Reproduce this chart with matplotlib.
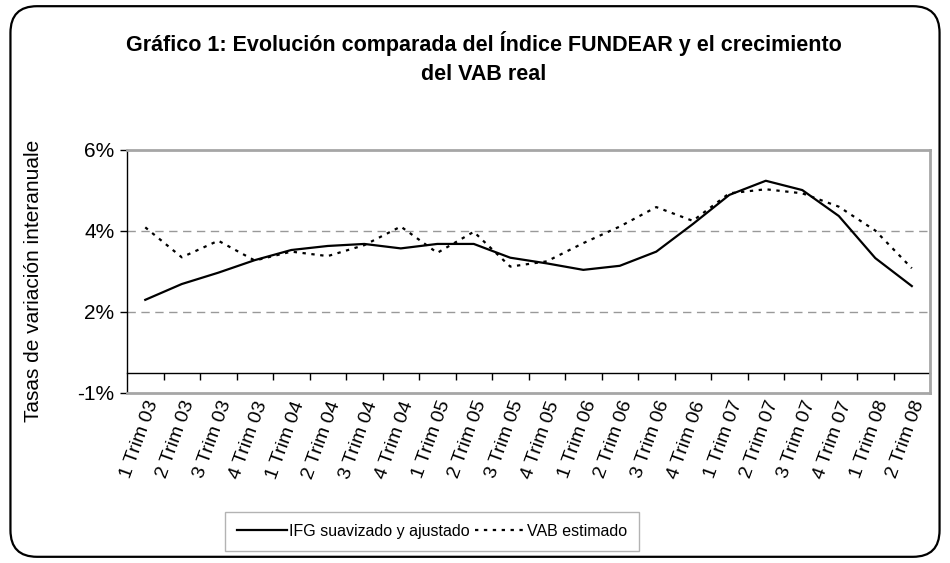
import matplotlib.pyplot as plt
import matplotlib.patches as patches
import numpy as np

plt.rcParams['font.family'] = ['Liberation Sans', 'DejaVu Sans']

# quarters
periodos = ['1 Trim 03', '2 Trim 03', '3 Trim 03', '4 Trim 03',
            '1 Trim 04', '2 Trim 04', '3 Trim 04', '4 Trim 04',
            '1 Trim 05', '2 Trim 05', '3 Trim 05', '4 Trim 05',
            '1 Trim 06', '2 Trim 06', '3 Trim 06', '4 Trim 06',
            '1 Trim 07', '2 Trim 07', '3 Trim 07', '4 Trim 07',
            '1 Trim 08', '2 Trim 08']
ifg = [2.30, 2.69, 2.97, 3.28, 3.53, 3.63, 3.68, 3.57, 3.68, 3.68, 3.34,
       3.20, 3.04, 3.14, 3.49, 4.17, 4.89, 5.24, 5.01, 4.37, 3.33, 2.64]
vab = [4.09, 3.35, 3.76, 3.27, 3.49, 3.38, 3.65, 4.11, 3.46, 3.98, 3.12,
       3.25, 3.70, 4.11, 4.59, 4.25, 4.93, 5.03, 4.93, 4.60, 4.01, 3.08]
yticks = [0, 2, 4, 6]
ytick_labels = ['-1%', '2%', '4%', '6%']
cruce = 0.5  # where the category axis crosses

fig = plt.figure(figsize=(9.5, 5.63), dpi=100)
ax = fig.add_axes([0.1337, 0.302, 0.8453, 0.4316])

x = np.arange(len(periodos))
l1, = ax.plot(x, ifg, color='black', lw=1.6, label='IFG suavizado y ajustado')
l2, = ax.plot(x, vab, color='black', lw=1.6, ls=(0, (1.5, 2.5)), label='VAB estimado')

ax.set_xlim(-0.5, len(periodos) - 0.5)
ax.set_ylim(0, 6)
ax.set_yticks(yticks)
ax.set_yticklabels(ytick_labels, fontsize=15)
ax.tick_params(axis='y', direction='out', length=5, width=1, pad=4)
ax.set_xticks(x)
ax.set_xticklabels(periodos, rotation=70, ha='right', rotation_mode='anchor',
                   fontsize=14)
ax.tick_params(axis='x', length=0, pad=4)

for g in [2, 4]:
    ax.axhline(g, color='#999999', lw=1, ls=(0, (6, 4)), zorder=0)

for s in ['top', 'right', 'bottom']:
    ax.spines[s].set_color('#a6a6a6')
    ax.spines[s].set_linewidth(2)
ax.spines['left'].set_color('black')
ax.spines['left'].set_linewidth(1)

# category axis line with tick marks between quarters
sec = ax.secondary_xaxis(cruce / 6)
sec.set_xticks(np.arange(0.5, len(periodos) - 1))
sec.tick_params(direction='out', length=5, width=1, labelbottom=False)
sec.spines['bottom'].set_linewidth(1)

ax.set_ylabel('Tasas de variación interanuale', fontsize=15)
ax.yaxis.set_label_coords(-0.105, 0.46)

fig.text(0.509, 0.897, 'Gráfico 1: Evolución comparada del Índice FUNDEAR y el crecimiento\ndel VAB real',
         ha='center', va='center', fontsize=15.5, fontweight='bold', linespacing=1.5)

leg = fig.legend(handles=[l1, l2], loc='center', bbox_to_anchor=(0.455, 0.056),
                 ncol=2, frameon=True, fancybox=False, fontsize=11.5,
                 handlelength=3.1, handletextpad=0.15, columnspacing=0.35,
                 borderpad=0.75, edgecolor='#a0a0a0')
leg.get_frame().set_linewidth(1)

borde = patches.FancyBboxPatch((0.011, 0.011), 0.978, 0.978,
                               boxstyle='round,pad=0,rounding_size=0.028',
                               mutation_aspect=950 / 563, transform=fig.transFigure,
                               fill=False, edgecolor='black', lw=1.6)
fig.patches.append(borde)

fig.savefig('out.png', dpi=100)
